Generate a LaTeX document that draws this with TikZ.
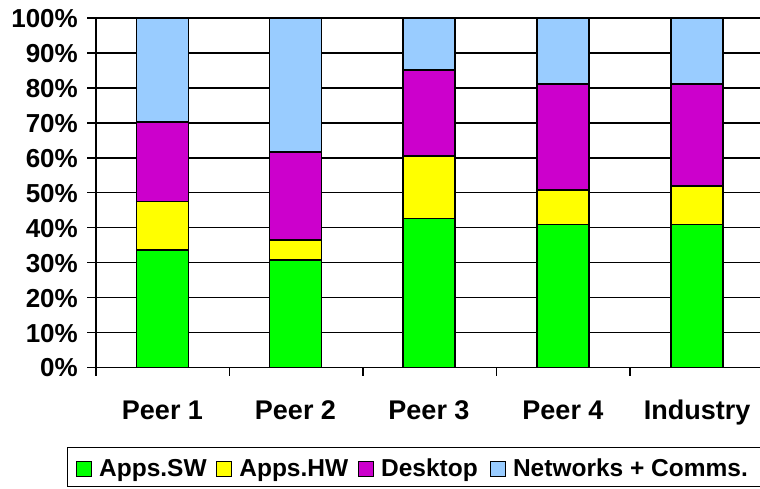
\documentclass[tikz,border=0pt]{standalone}
\usepackage{fontspec}
\setmainfont{Liberation Sans}
\usepackage{xcolor}
\usetikzlibrary{positioning}

\definecolor{appsw}{HTML}{00FF00}
\definecolor{appshw}{HTML}{FFFF00}
\definecolor{desktop}{HTML}{CC00CC}
\definecolor{netcomm}{HTML}{99CCFF}

\begin{document}
\begin{tikzpicture}[
    x=1pt, y=1pt,
    grid/.style={line width=1.3pt},
    bar/.style={draw, line width=1.6pt},
    ylabel/.style={anchor=base east, inner sep=0pt, font=\fontsize{26}{26}\selectfont\bfseries},
    catlabel/.style={anchor=base, inner sep=0pt, font=\fontsize{27}{27}\selectfont\bfseries},
    swatch/.style={draw, line width=1.3pt, minimum size=15pt, inner sep=0pt},
    legtext/.style={inner sep=0pt, text height=17.5pt, text depth=4pt, font=\fontsize{24.5}{24.5}\selectfont\bfseries}
]
    \useasboundingbox (0,0) rectangle (760,489);
    \clip (0,0) rectangle (760,489);

    % plot area: y in percent
    \begin{scope}[shift={(0,121.3)}, y=3.497pt]
        \foreach \p in {0,10,...,100} {
            \draw[grid] (87,\p) -- (762,\p);
            \node[ylabel] (lab\p) at (78,\p) [yshift=-9.3pt] {\p\%};
        }
        \draw[grid] (96,0) -- (96,100);
        \foreach \t in {96,229.5,363,496.5,630}
            \draw[grid] (\t,0) -- (\t,-2.4);

        % stacked bars
        \foreach \cx/\a/\b/\c/\name [count=\i] in {162.5/33.7/47.5/70.2/Peer 1,
                                                  295.5/30.8/36.5/61.6/Peer 2,
                                                  429/42.7/60.5/85.1/Peer 3,
                                                  563/41/50.8/81.1/Peer 4,
                                                  697/41/52/81.1/Industry} {
            \draw[bar, fill=appsw]   (\cx-26,0)  rectangle (\cx+26,\a);
            \draw[bar, fill=appshw]  (\cx-26,\a) rectangle (\cx+26,\b);
            \draw[bar, fill=desktop] (\cx-26,\b) rectangle (\cx+26,\c);
            \draw[bar, fill=netcomm] (\cx-26,\c) rectangle (\cx+26,100);
            \node[catlabel] (cat\i) at (\cx,-14.95) {\name};
        }
    \end{scope}

    % legend
    \draw[grid] (67.3,2.3) rectangle (764,41.7);
    \node[swatch, fill=appsw] (keyappsw) at (83.8,19.7) {};
    \node[legtext, right=7pt of keyappsw] (txtappsw) {Apps.SW};
    \node[swatch, fill=appshw] (keyappshw) at (224,19.7) {};
    \node[legtext, right=7pt of keyappshw] (txtappshw) {Apps.HW};
    \node[swatch, fill=desktop] (keydesktop) at (365.8,19.7) {};
    \node[legtext, right=7pt of keydesktop] (txtdesktop) {Desktop};
    \node[swatch, fill=netcomm] (keynetcomm) at (497.7,19.7) {};
    \node[legtext, right=7pt of keynetcomm] (txtnetcomm) {Networks + Comms.};
\end{tikzpicture}
\end{document}
